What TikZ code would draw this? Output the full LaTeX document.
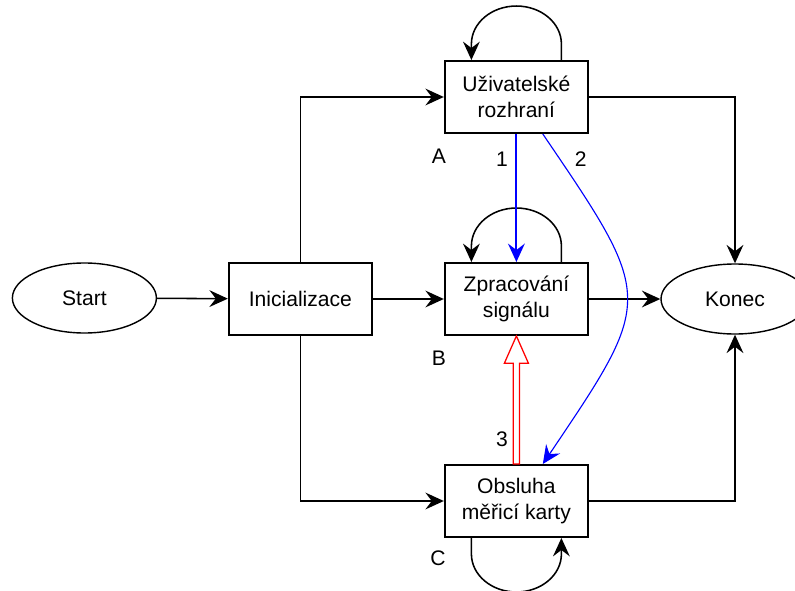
\documentclass[tikz,border=0pt]{standalone}
\usepackage{fontspec}
\setmainfont{Liberation Sans}
\usetikzlibrary{calc,arrows.meta,shapes.geometric}

\begin{document}
\begin{tikzpicture}[font=\fontsize{15}{18.5}\selectfont,
  blok/.style={draw, line width=1.4pt, minimum width=3.58cm, minimum height=1.8cm,
               align=center, inner sep=2pt},
  elipsa/.style={draw, ellipse, line width=1pt, minimum width=3.6cm,
                 minimum height=1.75cm, inner sep=0pt},
  sipka/.style={-{Stealth[length=4.6mm,width=4.2mm,inset=1.6mm]}, line width=1.1pt},
  popis/.style={inner sep=0pt}]

  \useasboundingbox (0,0) rectangle (19.875,-14.775);

  % --- Bloky ---
  \node[elipsa] (start) at (2.11,-7.45) {Start};
  \node[blok] (init)  at (7.51,-7.475)   {Inicializace};
  \node[blok] (uziv)  at (12.91,-2.425)  {Uživatelské\\rozhraní};
  \node[blok] (zprac) at (12.91,-7.475)  {Zpracování\\signálu};
  \node[blok] (obsl)  at (12.91,-12.525) {Obsluha\\měřicí karty};
  \node[elipsa, minimum width=3.7cm] (konec) at (18.375,-7.475) {Konec};

  % --- Hlavni tok ---
  \draw[sipka] (start) -- (init);
  \draw[sipka] (init) -- (zprac);
  \draw[sipka] (zprac) -- (konec);
  \draw[sipka] (init.north) |- (uziv.west);
  \draw[sipka] (init.south) |- (obsl.west);
  \draw[sipka] (uziv.east) -| (konec.north);
  \draw[sipka] (obsl.east) -| (konec.south);

  % --- Smycky ---
  \draw[sipka] ($(uziv.north)+(1.125,0)$) -- ++(0,0.4)
    arc[start angle=0, end angle=180, x radius=1.125, y radius=0.95] -- ++(0,-0.4);
  \draw[sipka] ($(zprac.north)+(1.125,0)$) -- ++(0,0.4)
    arc[start angle=0, end angle=180, x radius=1.125, y radius=0.95] -- ++(0,-0.4);
  \draw[sipka] ($(obsl.south)+(-1.125,0)$) -- ++(0,-0.4)
    arc[start angle=180, end angle=360, x radius=1.125, y radius=0.95] -- ++(0,0.4);

  % --- Prechody 1, 2 (modre) a 3 (cervena) ---
  \draw[sipka, blue, line width=1.3pt] (uziv) -- (zprac);
  \draw[sipka, blue, line width=0.8pt] ($(uziv.south)+(0.66,0)$)
    .. controls +(2.8,-4.12) and +(2.8,4.15) .. ($(obsl.north)+(0.66,0)$);
  \draw[red, line width=0.9pt, line join=miter]
    ($(obsl.north)+(-0.08,0)$) -- ($(zprac.south)+(-0.08,-0.68)$) -- ++(-0.22,0)
    -- (zprac.south) -- ($(zprac.south)+(0.3,-0.68)$) -- ++(-0.22,0)
    -- ($(obsl.north)+(0.08,0)$) -- cycle;

  % --- Popisky ---
  \node[popis] (pA) at (10.97,-3.9)   {A};
  \node[popis] (pB) at (10.97,-8.95)  {B};
  \node[popis] (pC) at (10.95,-13.95) {C};
  \node[popis] (p1) at (12.55,-3.97)  {1};
  \node[popis] (p2) at (14.52,-3.97)  {2};
  \node[popis] (p3) at (12.55,-10.98) {3};

\end{tikzpicture}
\end{document}
